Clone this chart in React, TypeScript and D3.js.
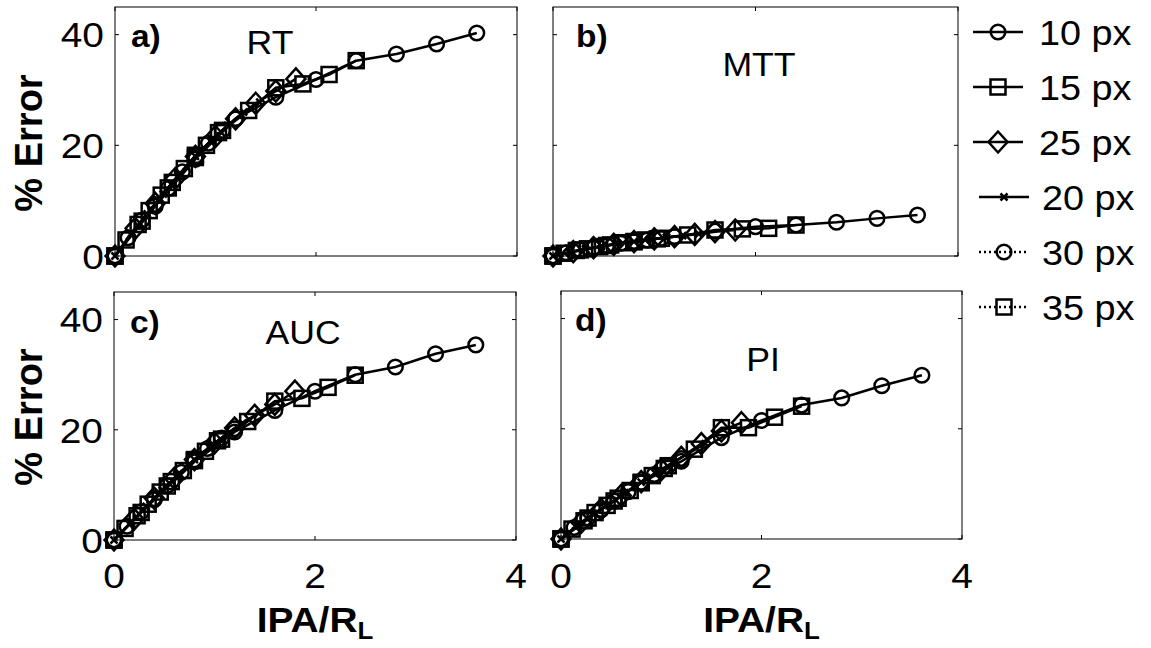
import React from 'react';
import * as d3 from 'd3';

// legend labels in the order the figure lists them
const legendLabels = ['10 px', '15 px', '25 px', '20 px', '30 px', '35 px'];

// IPA/R_L sampled for each lesion size
const x10 = [0, 0.4, 0.8, 1.2, 1.6, 2.0, 2.4, 2.8, 3.2, 3.6];
const x15 = [0, 0.27, 0.53, 0.8, 1.07, 1.33, 1.6, 1.87, 2.13, 2.4];
const x25 = [0, 0.2, 0.4, 0.6, 0.8, 1.0, 1.2, 1.4, 1.6, 1.8];
const x20 = [0, 0.16, 0.32, 0.48, 0.64, 0.8, 0.96, 1.12, 1.28, 1.44];
const x30 = [0, 0.13, 0.27, 0.4, 0.53, 0.67, 0.8, 0.93, 1.07, 1.2];
const x35 = [0, 0.11, 0.23, 0.34, 0.46, 0.57, 0.69, 0.8, 0.91, 1.03];

// % error, RT
const rt10 = [0, 9.0, 17.5, 24.8, 28.7, 31.9, 35.3, 36.5, 38.3, 40.3];
const rt15 = [0, 6.3, 12.3, 18.2, 22.7, 26.3, 30.4, 31.1, 32.8, 35.3];
const rt25 = [0, 5.0, 9.5, 14.0, 18.0, 21.6, 24.8, 27.6, 29.8, 32.0];
const rt20 = [0, 4.0, 7.6, 11.2, 14.8, 18.0, 21.0, 23.6, 26.0, 27.8];
const rt30 = [0, 3.3, 6.5, 9.3, 12.2, 15.2, 17.8, 20.4, 22.7, 24.8];
const rt35 = [0, 2.9, 5.7, 8.2, 11.0, 13.3, 15.8, 17.8, 20.0, 22.3];

// % error, MTT
const mtt10 = [0, 1.5, 2.6, 3.5, 4.5, 5.3, 5.6, 6.1, 6.8, 7.4];
const mtt15 = [0, 1.1, 1.9, 2.6, 3.2, 3.8, 4.7, 4.9, 5.0, 5.6];
const mtt25 = [0, 0.8, 1.5, 2.1, 2.6, 3.1, 3.5, 3.9, 4.4, 4.7];
const mtt20 = [0, 0.7, 1.3, 1.8, 2.3, 2.6, 3.0, 3.4, 3.7, 4.0];
const mtt30 = [0, 0.6, 1.1, 1.5, 1.9, 2.3, 2.6, 2.9, 3.2, 3.5];
const mtt35 = [0, 0.5, 1.0, 1.3, 1.7, 2.0, 2.4, 2.6, 2.9, 3.1];

// % error, AUC
const auc10 = [0, 7.3, 14.2, 19.6, 23.5, 27.0, 30.0, 31.4, 33.8, 35.4];
const auc15 = [0, 5.0, 9.8, 14.6, 18.3, 21.5, 25.2, 25.7, 27.7, 29.9];
const auc25 = [0, 3.8, 7.6, 11.2, 14.6, 17.6, 20.3, 22.6, 24.6, 27.0];
const auc20 = [0, 3.0, 6.1, 9.0, 12.0, 14.6, 17.0, 19.2, 21.2, 23.0];
const auc30 = [0, 2.5, 5.1, 7.5, 9.9, 12.3, 14.5, 16.6, 18.5, 20.2];
const auc35 = [0, 2.1, 4.4, 6.5, 8.7, 10.6, 12.6, 14.4, 16.1, 18.0];

// % error, PI
const pi10 = [0, 5.3, 10.2, 14.1, 18.4, 21.5, 24.3, 25.6, 27.8, 29.7];
const pi15 = [0, 3.8, 6.9, 10.3, 13.3, 16.3, 20.2, 20.2, 22.1, 24.1];
const pi25 = [0, 3.0, 5.4, 7.9, 10.4, 12.6, 14.8, 17.3, 19.6, 21.1];
const pi20 = [0, 2.5, 4.5, 6.4, 8.4, 10.3, 12.2, 13.9, 15.6, 17.3];
const pi30 = [0, 2.1, 3.8, 5.3, 6.9, 8.6, 10.2, 11.7, 13.3, 14.6];
const pi35 = [0, 1.8, 3.3, 4.8, 6.1, 7.4, 8.8, 10.2, 11.5, 12.8];

const xTicks = [0, 2, 4];
const yTicks = [0, 20, 40];

const FONT = '"Liberation Sans", Arial, Helvetica, sans-serif';
const SX = 1.08; // glyphs in the picture are a little wide

// marker + line style per series, same order as legendLabels
const styles = [
  { marker: 'circle', dash: null },
  { marker: 'square', dash: null },
  { marker: 'diamond', dash: null },
  { marker: 'cross', dash: null },
  { marker: 'circle', dash: '2,3' },
  { marker: 'square', dash: '2,3' },
];
const xs = [x10, x15, x25, x20, x30, x35];

const panels = [
  { letter: 'a)', title: 'RT', box: [115, 7, 517, 256], ys: [rt10, rt15, rt25, rt20, rt30, rt35],
    letterPos: [131, 47], titlePos: [270, 54], yLabels: true, xLabels: false, ylabelY: 143 },
  { letter: 'b)', title: 'MTT', box: [553, 7, 958, 256], ys: [mtt10, mtt15, mtt25, mtt20, mtt30, mtt35],
    letterPos: [576, 47], titlePos: [759, 76], yLabels: false, xLabels: false },
  { letter: 'c)', title: 'AUC', box: [114, 292, 516, 540], ys: [auc10, auc15, auc25, auc20, auc30, auc35],
    letterPos: [130, 333], titlePos: [303, 344], yLabels: true, xLabels: true, ylabelY: 417 },
  { letter: 'd)', title: 'PI', box: [561, 291, 962, 539], ys: [pi10, pi15, pi25, pi20, pi30, pi35],
    letterPos: [575, 331], titlePos: [763, 371], yLabels: false, xLabels: true },
];

const Marker = ({ kind, x, y }: { kind: string; x: number; y: number }) => {
  const common = { fill: 'none', stroke: '#000', strokeWidth: 2.5 };
  if (kind === 'circle') return <circle cx={x} cy={y} r={7.3} {...common} />;
  if (kind === 'square') return <rect x={x - 7.5} y={y - 7.5} width={15} height={15} {...common} />;
  if (kind === 'diamond')
    return <path d={`M${x},${y - 10.5}L${x + 9.5},${y}L${x},${y + 10.5}L${x - 9.5},${y}Z`} {...common} />;
  return <path d={`M${x - 3.5},${y - 3.5}L${x + 3.5},${y + 3.5}M${x - 3.5},${y + 3.5}L${x + 3.5},${y - 3.5}`} {...common} />;
};

const Txt = ({ x, y, size, anchor = 'start', weight = 'normal', children }: any) => (
  <text transform={`translate(${x},${y}) scale(${SX},1)`} textAnchor={anchor}
    fontSize={size} fontWeight={weight} fontFamily={FONT} fill="#000">{children}</text>
);

const Panel = ({ p }: { p: any }) => {
  const [x0, y0, x1, y1] = p.box;
  const x = d3.scaleLinear().domain([0, 4]).range([x0, x1]);
  const y = d3.scaleLinear().domain([0, 45]).range([y1, y0]);
  const line = d3.line<[number, number]>().x(d => x(d[0])).y(d => y(d[1]));
  const tick = 4;

  return (
    <g>
      <rect x={x0} y={y0} width={x1 - x0} height={y1 - y0} fill="#fff" stroke="#000" strokeWidth={1} />
      {xTicks.map(t => (
        <g key={'xt' + t}>
          <line x1={x(t)} x2={x(t)} y1={y1} y2={y1 - tick} stroke="#000" />
          <line x1={x(t)} x2={x(t)} y1={y0} y2={y0 + tick} stroke="#000" />
          {p.xLabels && <Txt x={x(t)} y={588} size={36} anchor="middle">{t}</Txt>}
        </g>
      ))}
      {yTicks.map(t => (
        <g key={'yt' + t}>
          <line x1={x0} x2={x0 + tick} y1={y(t)} y2={y(t)} stroke="#000" />
          <line x1={x1} x2={x1 - tick} y1={y(t)} y2={y(t)} stroke="#000" />
          {p.yLabels && <Txt x={x0 - 11} y={y(t) + 12.8} size={36} anchor="end">{t}</Txt>}
        </g>
      ))}

      {styles.map((s, i) => {
        const pts: [number, number][] = xs[i].map((v, j) => [v, p.ys[i][j]]);
        return (
          <g key={'s' + i}>
            <path d={line(pts) || ''} fill="none" stroke="#000" strokeWidth={2.5}
              strokeDasharray={s.dash || undefined} />
            {pts.map((d, j) => <Marker key={j} kind={s.marker} x={x(d[0])} y={y(d[1])} />)}
          </g>
        );
      })}

      <Txt x={p.letterPos[0]} y={p.letterPos[1]} size={31} weight="bold">{p.letter}</Txt>
      <Txt x={p.titlePos[0]} y={p.titlePos[1]} size={33} anchor="middle">{p.title}</Txt>

      {p.yLabels && (
        <text transform={`translate(42,${p.ylabelY}) rotate(-90)`} textAnchor="middle"
          fontSize={38} fontWeight="bold" fontFamily={FONT}>% Error</text>
      )}
      {p.xLabels && (
        <text transform={`translate(${x(2)},632) scale(${SX},1)`} textAnchor="middle"
          fontSize={36} fontWeight="bold" fontFamily={FONT}>
          IPA/R<tspan dy={7} fontSize={24}>L</tspan>
        </text>
      )}
    </g>
  );
};

const Legend = () => {
  const rows = d3.range(legendLabels.length).map(i => 32 + i * 55);
  return (
    <g>
      {legendLabels.map((lab, i) => {
        const s = styles[i];
        const shift = i >= 3 ? 6 : 0;
        const lx0 = 973 + shift, lx1 = 1023 + shift;
        return (
          <g key={lab}>
            <line x1={lx0} x2={lx1} y1={rows[i]} y2={rows[i]} stroke="#000" strokeWidth={2.5}
              strokeDasharray={s.dash || undefined} />
            <Marker kind={s.marker} x={(lx0 + lx1) / 2} y={rows[i]} />
            <Txt x={1039 + shift / 2} y={rows[i] + 12.5} size={35}>{lab}</Txt>
          </g>
        );
      })}
    </g>
  );
};

export default function App() {
  return (
    <svg width={1151} height={648} style={{ position: 'absolute', left: 0, top: 0, background: '#fff' }}>
      <rect width={1151} height={648} fill="#fff" />
      {panels.map(p => <Panel key={p.letter} p={p} />)}
      <Legend />
    </svg>
  );
}
